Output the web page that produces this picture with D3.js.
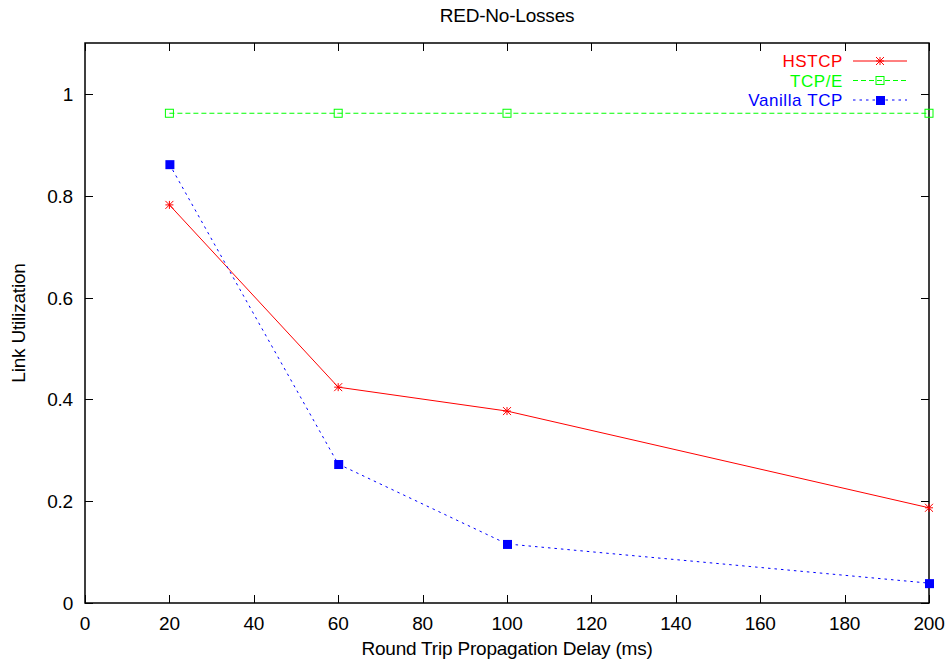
<!DOCTYPE html>
<html><head><meta charset="utf-8">
<script src="https://cdn.jsdelivr.net/npm/d3@7"></script>
<style>body{margin:0;background:#fff}svg{display:block}text{font-family:"Liberation Sans",Arial,sans-serif;font-size:19px;fill:#000;letter-spacing:-0.2px}text.leg{font-size:17px;letter-spacing:0.6px}</style>
</head><body><svg id="c" width="950" height="666"></svg>
<script>
const delays = [20, 60, 100, 200];
const hstcp = [0.782, 0.424, 0.377, 0.187];
const tcpe = [0.962, 0.962, 0.962, 0.962];
const vanilla = [0.862, 0.273, 0.116, 0.039];
const xTicks = [0,20,40,60,80,100,120,140,160,180,200];
const yTicks = [0,0.2,0.4,0.6,0.8,1];
const seriesNames = ["HSTCP","TCP/E","Vanilla TCP"];

const svg = d3.select("#c");
const L=85,R=929,T=43,B=603;
const x = d3.scaleLinear().domain([0,200]).range([L,R]);
const y = d3.scaleLinear().domain([0,1.1]).range([B,T]);
const tl = 8;

const g = svg.append("g").attr("stroke","#000").attr("stroke-width",1);
xTicks.forEach(t=>{
  const px = Math.round(x(t))+0.5;
  g.append("line").attr("x1",px).attr("x2",px).attr("y1",B).attr("y2",B-tl);
  g.append("line").attr("x1",px).attr("x2",px).attr("y1",T).attr("y2",T+tl);
});
yTicks.forEach(t=>{
  const py = Math.round(y(t))+0.5;
  g.append("line").attr("x1",L).attr("x2",L+tl).attr("y1",py).attr("y2",py);
  g.append("line").attr("x1",R).attr("x2",R-tl).attr("y1",py).attr("y2",py);
});
svg.append("rect").attr("x",L).attr("y",T).attr("width",R-L).attr("height",B-T)
  .attr("fill","none").attr("stroke","#000").attr("stroke-width",1.5);

xTicks.forEach(t=>{
  svg.append("text").attr("x",x(t)).attr("y",B+27).attr("text-anchor","middle").text(t);
});
yTicks.forEach(t=>{
  svg.append("text").attr("x",L-12).attr("y",y(t)+7).attr("text-anchor","end").text(d3.format("")(t));
});

svg.append("text").attr("x",(L+R)/2).attr("y",22).attr("text-anchor","middle").text("RED-No-Losses");
svg.append("text").attr("x",(L+R)/2).attr("y",655).attr("text-anchor","middle").text("Round Trip Propagation Delay (ms)");
svg.append("text").attr("transform",`translate(25,${(T+B)/2}) rotate(-90)`).attr("text-anchor","middle").text("Link Utilization");

const series = [
  {name:seriesNames[0], vals:hstcp, color:"#ff0000", dash:null, marker:"star"},
  {name:seriesNames[1], vals:tcpe, color:"#00ff00", dash:"5,3", marker:"openSquare"},
  {name:seriesNames[2], vals:vanilla, color:"#0000ff", dash:"2.5,4", marker:"filledSquare"}
];
function marker(sel, type, cx, cy, color){
  const s=4;
  if(type==="star"){
    const p = `M${cx-s},${cy}H${cx+s}M${cx},${cy-s}V${cy+s}M${cx-s},${cy-s}L${cx+s},${cy+s}M${cx-s},${cy+s}L${cx+s},${cy-s}`;
    sel.append("path").attr("d",p).attr("stroke",color).attr("stroke-width",1).attr("fill","none");
  } else if(type==="openSquare"){
    sel.append("rect").attr("x",cx-s).attr("y",cy-s).attr("width",2*s).attr("height",2*s).attr("fill","none").attr("stroke",color).attr("stroke-width",1);
  } else {
    sel.append("rect").attr("x",cx-s).attr("y",cy-s).attr("width",2*s+1).attr("height",2*s+1).attr("fill",color);
  }
}
const line = d3.line().x(d=>x(d[0])).y(d=>y(d[1]));
series.forEach((s,i)=>{
  const pts = delays.map((d,j)=>[d,s.vals[j]]);
  svg.append("path").attr("d",line(pts)).attr("fill","none").attr("stroke",s.color).attr("stroke-width",1)
    .attr("stroke-dasharray",s.dash);
  pts.forEach(p=>marker(svg,s.marker,x(p[0]),y(p[1]),s.color));
  const ly = 61 + i*19.5;
  svg.append("text").attr("class","leg").attr("x",843).attr("y",ly+6).attr("text-anchor","end").style("fill",s.color).text(s.name);
  svg.append("line").attr("x1",853).attr("x2",907).attr("y1",ly).attr("y2",ly).attr("stroke",s.color).attr("stroke-width",1).attr("stroke-dasharray",s.dash);
  marker(svg,s.marker,880,ly,s.color);
});
</script></body></html>
